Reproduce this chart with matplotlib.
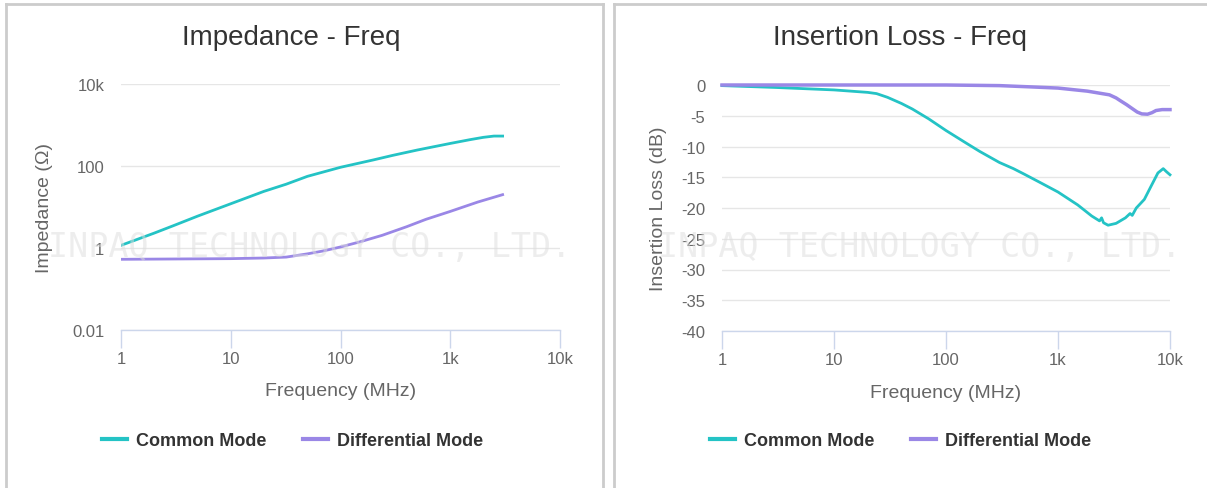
import numpy as np
import matplotlib
matplotlib.use("Agg")
import matplotlib.pyplot as plt
from matplotlib.lines import Line2D

plt.rcParams['font.family'] = ['Liberation Sans', 'DejaVu Sans']
plt.rcParams['axes.unicode_minus'] = False

CYAN = "#24c3c5"
PURPLE = "#9a87e6"
GRID = "#e6e6e6"
AXIS = "#ccd6eb"
TXT = "#666666"

# impedance vs frequency (MHz, ohm)
imp_freq = [1, 2, 3, 5, 10, 20, 32, 50, 100, 200, 300, 500, 1000, 1500, 2000, 2500, 3000]
imp_common = [1.16, 2.3, 3.5, 6.0, 12, 24, 36, 56, 93, 141, 182, 245, 355, 437, 500, 537, 537]
imp_diff_freq = [1, 10, 20, 32, 50, 70, 100, 150, 240, 400, 600, 1000, 1780, 3000]
imp_diff = [0.53, 0.55, 0.57, 0.60, 0.72, 0.85, 1.06, 1.41, 2.04, 3.3, 5.0, 7.8, 13.2, 20]

# insertion loss vs frequency (MHz, dB)
il_freq_cm = [1, 3, 10, 20, 24, 30, 40, 50, 70, 100, 150, 200, 300, 400, 500, 700, 1000,
              1500, 2000, 2350, 2450, 2550, 2800, 3300, 4000, 4400, 4600, 5000, 5900, 6800,
              7800, 8700, 9300, 10000]
il_common = [-0.1, -0.4, -0.8, -1.2, -1.4, -2.0, -3.0, -3.9, -5.5, -7.4, -9.4, -10.8, -12.6,
             -13.6, -14.5, -15.9, -17.4, -19.5, -21.3, -22.1, -21.6, -22.4, -22.8, -22.5,
             -21.6, -20.9, -21.2, -20.0, -18.6, -16.4, -14.3, -13.6, -14.1, -14.6]
il_freq_dm = [1, 100, 300, 560, 1000, 1830, 2880, 3300, 3600, 4100, 4570, 5100, 5600, 6300,
              6900, 7500, 8500, 10000]
il_diff = [0.0, 0.0, -0.1, -0.3, -0.5, -1.0, -1.6, -2.1, -2.55, -3.2, -3.8, -4.4, -4.7,
           -4.75, -4.5, -4.15, -4.0, -4.0]

W, H = 1207, 489
fig = plt.figure(figsize=(W / 100, H / 100), dpi=100)

def fx(px):
    return px / W

def fy(py):
    return 1 - py / H

# panel borders
for x0, x1 in [(5.5, 602.7), (613.7, 1207)]:
    fig.add_artist(Line2D([fx(x0), fx(x1)], [fy(5), fy(5)], color="#cccccc", lw=2))
    fig.add_artist(Line2D([fx(x0), fx(x0)], [fy(5), fy(489)], color="#cccccc", lw=2))
fig.add_artist(Line2D([fx(602.7), fx(602.7)], [fy(5), fy(489)], color="#cccccc", lw=2))


def style(ax):
    for s in ["top", "right", "left"]:
        ax.spines[s].set_visible(False)
    ax.spines["bottom"].set_color(AXIS)
    ax.spines["bottom"].set_linewidth(1)
    ax.set_xscale("log")
    ax.set_xlim(1, 10000)
    ax.set_xticks([1, 10, 100, 1000, 10000])
    ax.set_xticklabels(["1", "10", "100", "1k", "10k"])
    ax.xaxis.set_minor_locator(plt.NullLocator())
    ax.tick_params(axis="x", colors=AXIS, length=13, width=1, labelcolor=TXT, labelsize=12, pad=2)
    ax.tick_params(axis="y", length=0, labelcolor=TXT, labelsize=12, pad=12)
    ax.grid(axis="y", color=GRID, lw=1)
    ax.set_axisbelow(True)
    ax.set_xlabel("Frequency (MHz)", fontsize=14, color=TXT, labelpad=12)


# left: impedance
ax1 = fig.add_axes([fx(121), fy(331), fx(560) - fx(121), fy(85) - fy(331)])
style(ax1)
ax1.set_yscale("log")
ax1.set_ylim(0.01, 10000)
ax1.set_yticks([0.01, 1, 100, 10000])
ax1.set_yticklabels(["0.01", "1", "100", "10k"])
ax1.yaxis.set_minor_locator(plt.NullLocator())
ax1.plot(imp_freq, imp_common, color=CYAN, lw=2)
ax1.plot(imp_diff_freq, imp_diff, color=PURPLE, lw=2)
ax1.set_ylabel("Impedance (\u03a9)", fontsize=14, color=TXT, labelpad=14)

# right: insertion loss
ax2 = fig.add_axes([fx(722), fy(332), fx(1170) - fx(722), fy(86) - fy(332)])
style(ax2)
ax2.set_ylim(-40, 0)
ax2.set_yticks(np.arange(-40, 1, 5))
ax2.plot(il_freq_cm, il_common, color=CYAN, lw=2, clip_on=False)
ax2.plot(il_freq_dm, il_diff, color=PURPLE, lw=2.5, clip_on=False)
ax2.set_ylabel("Insertion Loss (dB)", fontsize=14, color=TXT, labelpad=10)

fig.text(fx(291), fy(38), "Impedance - Freq", fontsize=20, color="#333333", ha="center", va="center")
fig.text(fx(900), fy(38), "Insertion Loss - Freq", fontsize=20, color="#333333", ha="center", va="center")

# faint watermark
for x in [48, 658]:
    fig.text(fx(x), fy(247), "INPAQ TECHNOLOGY CO., LTD.", fontsize=24, family="DejaVu Sans Mono",
             color="#dddddd", alpha=0.5, ha="left", va="center", zorder=10)

handles = [Line2D([], [], color=CYAN, lw=3), Line2D([], [], color=PURPLE, lw=3)]
labels = ["Common Mode", "Differential Mode"]
for cx in [292.5, 900.5]:
    fig.legend(handles, labels, loc="center", bbox_to_anchor=(fx(cx), fy(442)), ncol=2,
               frameon=False, handlelength=1.4, handletextpad=0.5, columnspacing=2.0,
               prop={"weight": "bold", "size": 13}, labelcolor="#333333")

fig.savefig("out.png", dpi=100)
